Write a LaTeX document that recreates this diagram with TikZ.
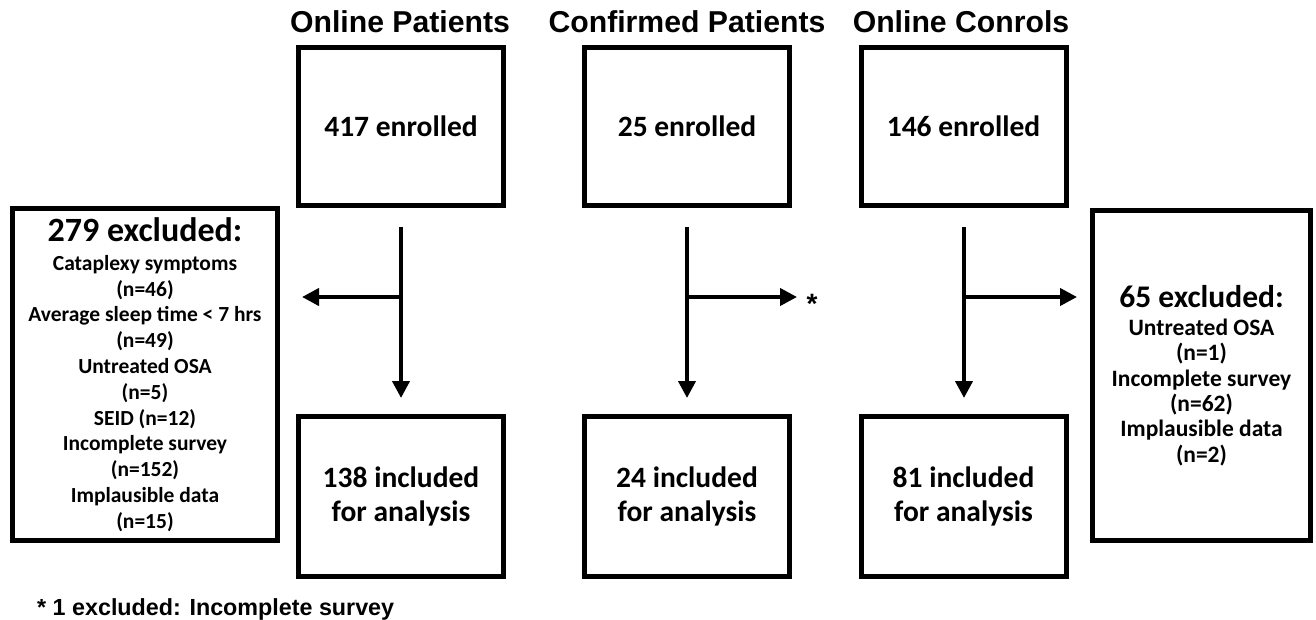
\documentclass[tikz,border=0pt]{standalone}
\usepackage{fontspec}
\newfontfamily\lsans{Liberation Sans}
\newfontfamily\calib{Carlito}
\usetikzlibrary{arrows.meta}
\tikzset{
  titletext/.style={anchor=base, font=\lsans\bfseries\fontsize{30.2}{36}\selectfont},
  flowbox/.style={draw, line width=5pt, minimum width=205pt, inner sep=0pt, align=center,
    font=\calib\bfseries\fontsize{29.5}{34}\selectfont},
  topbox/.style={flowbox, minimum height=158pt},
  botbox/.style={flowbox, minimum height=160pt},
  exbox/.style={draw, line width=5pt, inner sep=0pt, align=center},
  flowarrow/.style={line width=4pt, -{Triangle[length=17pt,width=17pt]}},
  branch/.style={line width=4pt},
}
\begin{document}
\begin{tikzpicture}[x=1pt,y=-1pt]
\useasboundingbox (0,0) rectangle (1316,620);

% titles
\node[titletext] (t1) at (400,33) {Online Patients};
\node[titletext] (t2) at (687,33) {Confirmed Patients};
\node[titletext] (t3) at (961,33) {Online Conrols};

% top boxes
\node[topbox] (e1) at (401,126.5) {417 enrolled};
\node[topbox] (e2) at (687,126.5) {25 enrolled};
\node[topbox] (e3) at (963.5,126.5) {146 enrolled};

% bottom boxes
\node[botbox] (i1) at (401,496.5) {138 included\\for analysis};
\node[botbox] (i2) at (687,496.5) {24 included\\for analysis};
\node[botbox] (i3) at (963.5,496.5) {81 included\\for analysis};

% exclusion boxes
\node[exbox, minimum width=265pt, minimum height=332pt,
      font=\calib\bfseries\fontsize{21.5}{25.8}\selectfont] (x1) at (145,374.5)
  {{\fontsize{34}{34}\selectfont 279 excluded:}\\[3pt]
   Cataplexy symptoms\\(n=46)\\Average sleep time < 7 hrs\\(n=49)\\Untreated OSA\\(n=5)\\
   SEID (n=12)\\Incomplete survey\\(n=152)\\Implausible data\\(n=15)};
\node[exbox, minimum width=218pt, minimum height=330pt,
      font=\calib\bfseries\fontsize{23.5}{25.3}\selectfont] (x3) at (1201.5,375.5)
  {{\fontsize{31.5}{31.5}\selectfont 65 excluded:}\\[3pt]
   Untreated OSA\\(n=1)\\Incomplete survey\\(n=62)\\Implausible data\\(n=2)};

% connector coordinates
\coordinate (v1s) at (401,227);  \coordinate (v1e) at (401,398);
\coordinate (h1s) at (401,297);  \coordinate (h1e) at (302,297);
\coordinate (v2s) at (687,227);  \coordinate (v2e) at (687,398);
\coordinate (h2s) at (687,297);  \coordinate (h2e) at (797,297);
\coordinate (v3s) at (964,227);  \coordinate (v3e) at (964,398);
\coordinate (h3s) at (964,297);  \coordinate (h3e) at (1077,297);

\draw[flowarrow] (v1s) -- (v1e);
\draw[flowarrow] (h1s) -- (h1e);
\draw[flowarrow] (v2s) -- (v2e);
\draw[flowarrow] (h2s) -- (h2e);
\draw[flowarrow] (v3s) -- (v3e);
\draw[flowarrow] (h3s) -- (h3e);

% asterisk
\node[anchor=base, inner sep=0pt, font=\lsans\bfseries\fontsize{28}{28}\selectfont] (ast) at (812,313) {*};

% footnote
\node[anchor=base west, inner sep=0pt, font=\lsans\bfseries\fontsize{23.3}{28}\selectfont] (fn) at (37,615)
  {* 1 excluded: Incomplete survey};
\end{tikzpicture}
\end{document}
